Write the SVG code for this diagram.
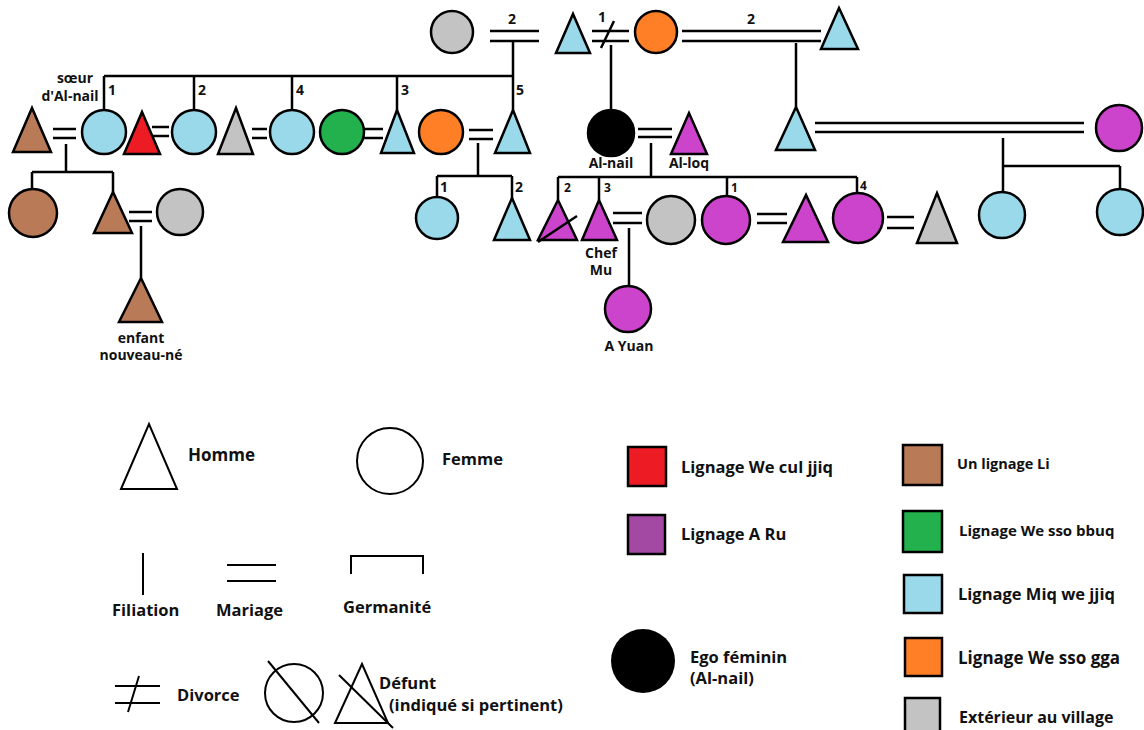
<svg xmlns="http://www.w3.org/2000/svg" width="1144" height="730" viewBox="0 0 1144 730">
<style>
.s{stroke:#000;stroke-width:2.5}
.bl{fill:#99d9ea}.br{fill:#b97a57}.rd{fill:#ed1c24}.gy{fill:#c3c3c3}.or{fill:#ff7f27}.gr{fill:#22b14c}.mg{fill:#cc44cc}.bk{fill:#000}.wh{fill:none}
.ln{stroke:#000;stroke-width:2.5;fill:none}
.lg{stroke:#000;stroke-width:2;fill:none}
text{font-family:"Open Sans","Liberation Sans",sans-serif;font-weight:700;fill:#111}
.t{font-size:14px}
.n{font-size:14px}
.ns{font-size:12px}
.L{font-size:16.5px}
.c{text-anchor:middle}
</style>
<rect width="1144" height="730" fill="#fff"/>
<g id="connectors">
<path class="ln" d="M490 31H539M490 41H539"/>
<path class="ln" d="M592 31H629M592 41H629M614 21L601 48"/>
<path class="ln" d="M682 31H821M682 41H821"/>
<path class="ln" d="M513 41V76M104 76H513M104 76V110M194 76V110M292 76V110M397 76V110M513 76V110"/>
<path class="ln" d="M611 45V110"/>
<path class="ln" d="M796 43V107"/>
<path class="ln" d="M53 129H76M53 138H76"/>
<path class="ln" d="M152 127H169M152 136H169"/>
<path class="ln" d="M252 129H267M252 138H267"/>
<path class="ln" d="M364 129H383M364 138H383"/>
<path class="ln" d="M469 130H493M469 139H493"/>
<path class="ln" d="M638 129H672M638 137H672"/>
<path class="ln" d="M815 123H1084M815 132H1084"/>
<path class="ln" d="M66 144V172M32 172H113M32 172V190M113 172V192"/>
<path class="ln" d="M478 143V176M437 176H512M437 176V197M512 176V198"/>
<path class="ln" d="M651 143V177M558 177H857M558 177V200M599 177V200M727 177V196M857 177V193"/>
<path class="ln" d="M1003 138V166H1120M1003 166V192M1120 166V189"/>
<path class="ln" d="M129 212H152M129 221H152M141 226V278"/>
<path class="ln" d="M613 213H642M613 223H642M629 228V286"/>
<path class="ln" d="M757 214H787M757 223H787"/>
<path class="ln" d="M887 217H914M887 228H914"/>
</g>
<g id="labels-connectors">
<text class="n" x="508" y="24">2</text>
<text class="n" x="598" y="22">1</text>
<text class="n" x="747" y="24">2</text>
<text class="n" x="108" y="95">1</text>
<text class="n" x="198" y="95">2</text>
<text class="n" x="296" y="95">4</text>
<text class="n" x="401" y="95">3</text>
<text class="n" x="516" y="95">5</text>
<text class="n" x="440" y="192">1</text>
<text class="n" x="515" y="192">2</text>
<text class="ns" x="564" y="192">2</text>
<text class="ns" x="604" y="192">3</text>
<text class="ns" x="731" y="192">1</text>
<text class="ns" x="860" y="190">4</text>
</g>
<g id="p_gray_top"><circle class="s gy" cx="452" cy="32" r="21"/></g>
<g id="p_father"><polygon class="s bl" points="556,53 590,53 573,14"/></g>
<g id="p_mother"><circle class="s or" cx="656" cy="32" r="21"/></g>
<g id="p_mother_husband2"><polygon class="s bl" points="821,49 858,49 839,8"/></g>
<g id="p_brown_husband"><polygon class="s br" points="13,152 51,152 32,108"/></g>
<g id="p_soeur"><circle class="s bl" cx="104" cy="132" r="22"/>
<text class="t" x="75" y="83" text-anchor="middle">sœur</text>
<text class="t" x="70" y="101" text-anchor="middle">d'Al-nail</text></g>
<g id="p_red"><polygon class="s rd" points="124,154 160,154 142,112"/></g>
<g id="p_sib2"><circle class="s bl" cx="194" cy="132" r="22"/></g>
<g id="p_gray_tri"><polygon class="s gy" points="218,154 253,154 236,108"/></g>
<g id="p_sib4"><circle class="s bl" cx="292" cy="132" r="22"/></g>
<g id="p_green"><circle class="s gr" cx="342" cy="132" r="22"/></g>
<g id="p_sib3"><polygon class="s bl" points="381,153 414,153 397,110"/></g>
<g id="p_orange2"><circle class="s or" cx="441" cy="132" r="22"/></g>
<g id="p_sib5"><polygon class="s bl" points="495,153 530,153 513,110"/></g>
<g id="p_alnail"><circle class="s bk" cx="611" cy="133" r="23"/>
<text class="t c" x="611" y="168">Al-nail</text></g>
<g id="p_alloq"><polygon class="s mg" points="671,154 707,154 689,113"/>
<text class="t c" x="689" y="168">Al-loq</text></g>
<g id="p_halfbro"><polygon class="s bl" points="776,150 815,150 796,107"/></g>
<g id="p_halfbro_wife"><circle class="s mg" cx="1119" cy="128" r="23"/></g>
<g id="p_brown_f"><circle class="s br" cx="33" cy="213" r="24"/></g>
<g id="p_brown_m"><polygon class="s br" points="94,233 132,233 113,192"/></g>
<g id="p_gray_wife"><circle class="s gy" cx="180" cy="212" r="23"/></g>
<g id="p_cousin1"><circle class="s bl" cx="437" cy="218" r="21"/></g>
<g id="p_cousin2"><polygon class="s bl" points="494,240 530,240 512,198"/></g>
<g id="p_dead_son"><polygon class="s mg" points="538,240 577,240 558,200"/><line class="ln" x1="538" y1="242" x2="577" y2="216"/></g>
<g id="p_chefmu"><polygon class="s mg" points="582,240 617,240 599,200"/>
<text class="t c" x="601" y="258">Chef</text>
<text class="t c" x="601" y="275">Mu</text></g>
<g id="p_chefmu_wife"><circle class="s gy" cx="671" cy="220" r="24"/></g>
<g id="p_daughter1"><circle class="s mg" cx="726" cy="220" r="24"/></g>
<g id="p_daughter1_husband"><polygon class="s mg" points="783,242 828,242 806,195"/></g>
<g id="p_daughter4"><circle class="s mg" cx="858" cy="218" r="25"/></g>
<g id="p_daughter4_husband"><polygon class="s gy" points="917,243 957,243 937,193"/></g>
<g id="p_halfbro_child1"><circle class="s bl" cx="1002" cy="215" r="23"/></g>
<g id="p_halfbro_child2"><circle class="s bl" cx="1120" cy="212" r="23"/></g>
<g id="p_newborn"><polygon class="s br" points="119,322 162,322 141,278"/>
<text class="t c" x="141" y="343">enfant</text>
<text class="t c" x="141" y="360">nouveau-né</text></g>
<g id="p_ayuan"><circle class="s mg" cx="628" cy="309" r="23"/>
<text class="t c" x="629" y="351">A Yuan</text></g>
<g id="legend_homme"><polygon class="lg" points="121,489 177,489 149,424"/><text class="L" x="188" y="461" style="font-size:17px">Homme</text></g>
<g id="legend_femme"><circle class="lg" cx="390" cy="461" r="33"/><text class="L" x="442" y="465">Femme</text></g>
<g id="legend_filiation"><line class="lg" x1="143" y1="553" x2="143" y2="595"/><text class="L" x="112" y="616">Filiation</text></g>
<g id="legend_mariage"><path class="lg" d="M227 565H276M227 581H276"/><text class="L" x="216" y="616">Mariage</text></g>
<g id="legend_germanite"><path class="lg" d="M351 574V556H423V574"/><text class="L" x="343" y="613">Germanité</text></g>
<g id="legend_divorce"><path class="lg" d="M115 686H160M115 703H160M139 676L128 712"/><text class="L" x="177" y="701">Divorce</text></g>
<g id="legend_defunt"><circle class="lg" cx="294" cy="693" r="29"/><line class="lg" x1="268" y1="661" x2="319" y2="723"/>
<polygon class="lg" points="335,723 388,723 362,664"/><line class="lg" x1="339" y1="675" x2="393" y2="728"/>
<text class="L" x="379" y="689">Défunt</text><text class="L" x="389" y="711">(indiqué si pertinent)</text></g>
<g id="legend_colors">
<rect class="s rd" x="628" y="447" width="38" height="39"/><text class="L" x="681" y="473">Lignage We cul jjiq</text>
<rect class="s" fill="#a349a4" x="628" y="515" width="37" height="39"/><text class="L" x="681" y="540">Lignage A Ru</text>
<circle fill="#000" cx="643" cy="661" r="32"/><text class="L" x="690" y="663">Ego féminin</text><text class="L" x="690" y="684">(Al-nail)</text>
<rect class="s br" x="903" y="445" width="39" height="40"/><text x="957" y="469" style="font-size:14.5px">Un lignage Li</text>
<rect class="s gr" x="903" y="511" width="39" height="41"/><text x="959" y="536" style="font-size:15px">Lignage We sso bbuq</text>
<rect class="s bl" x="904" y="575" width="38" height="38"/><text class="L" x="958" y="600">Lignage Miq we jjiq</text>
<rect class="s or" x="905" y="638" width="37" height="38"/><text x="958" y="664" style="font-size:17px">Lignage We sso gga</text>
<rect class="s gy" x="905" y="698" width="35" height="40"/><text x="959" y="723" style="font-size:16px">Extérieur au village</text>
</g>
</svg>
